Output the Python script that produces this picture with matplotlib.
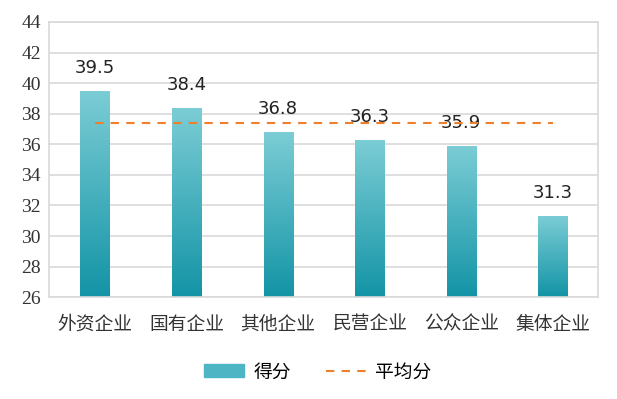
import numpy as np
import matplotlib.pyplot as plt
from matplotlib.colors import LinearSegmentedColormap
from matplotlib.patches import Patch
from matplotlib.lines import Line2D

plt.rcParams['font.family'] = ['Noto Sans CJK SC', 'DejaVu Sans']

categories = ['外资企业', '国有企业', '其他企业', '民营企业', '公众企业', '集体企业']
scores = [39.5, 38.4, 36.8, 36.3, 35.9, 31.3]
average = 37.4

grad = LinearSegmentedColormap.from_list('bar', ['#1394a6', '#7ccdd5'])

fig = plt.figure(figsize=(6.17, 3.99), dpi=100)
ax = fig.add_axes([0.080, 0.255, 0.89, 0.69])

x = np.arange(len(categories))
bw = 0.32
ymin, ymax = 26, 44
bars = ax.bar(x, scores, width=bw, bottom=0, color='none', zorder=2)
g = np.linspace(0, 1, 256).reshape(-1, 1)
for b, v in zip(bars, scores):
    x0 = b.get_x()
    im = ax.imshow(g, cmap=grad, origin='lower', aspect='auto',
                   extent=[x0, x0 + bw, ymin, v], zorder=2)
    im.set_clip_path(b)
    ax.text(b.get_x() + bw / 2, v + 0.9, f'{v}', ha='center', va='bottom',
            fontsize=13, family='DejaVu Sans', color='#222222')

ax.plot([x[0], x[-1]], [average, average], ls=(0, (4, 3.5)), color='#f07f2c',
        lw=1.5, zorder=3)

ax.set_xlim(-0.5, len(categories) - 0.5)
ax.set_ylim(ymin, ymax)
ax.set_yticks(np.arange(26, 45, 2))
ax.set_yticklabels([str(t) for t in range(26, 45, 2)], family='Liberation Serif',
                   fontsize=14, color='#333333')
ax.set_xticks(x)
ax.set_xticklabels(categories, fontsize=13.5, color='#333333')
ax.tick_params(axis='x', length=0, pad=12)
ax.tick_params(axis='y', length=0, pad=6)
ax.grid(axis='y', color='#d9d9d9', lw=1.2, zorder=0)
ax.set_axisbelow(True)
for s in ax.spines.values():
    s.set_color('#d9d9d9')
    s.set_linewidth(1.2)

handles = [Patch(facecolor='#4db5c3', edgecolor='#4db5c3'),
           Line2D([0], [0], color='#f07f2c', ls=(0, (4, 3.5)), lw=1.5)]
fig.legend(handles, ['得分', '平均分'], loc='center', bbox_to_anchor=(0.515, 0.068),
           ncol=2, frameon=False, fontsize=13.5, handlelength=2.1,
           columnspacing=1.9, handletextpad=0.5)

fig.savefig('out.png', dpi=100)
